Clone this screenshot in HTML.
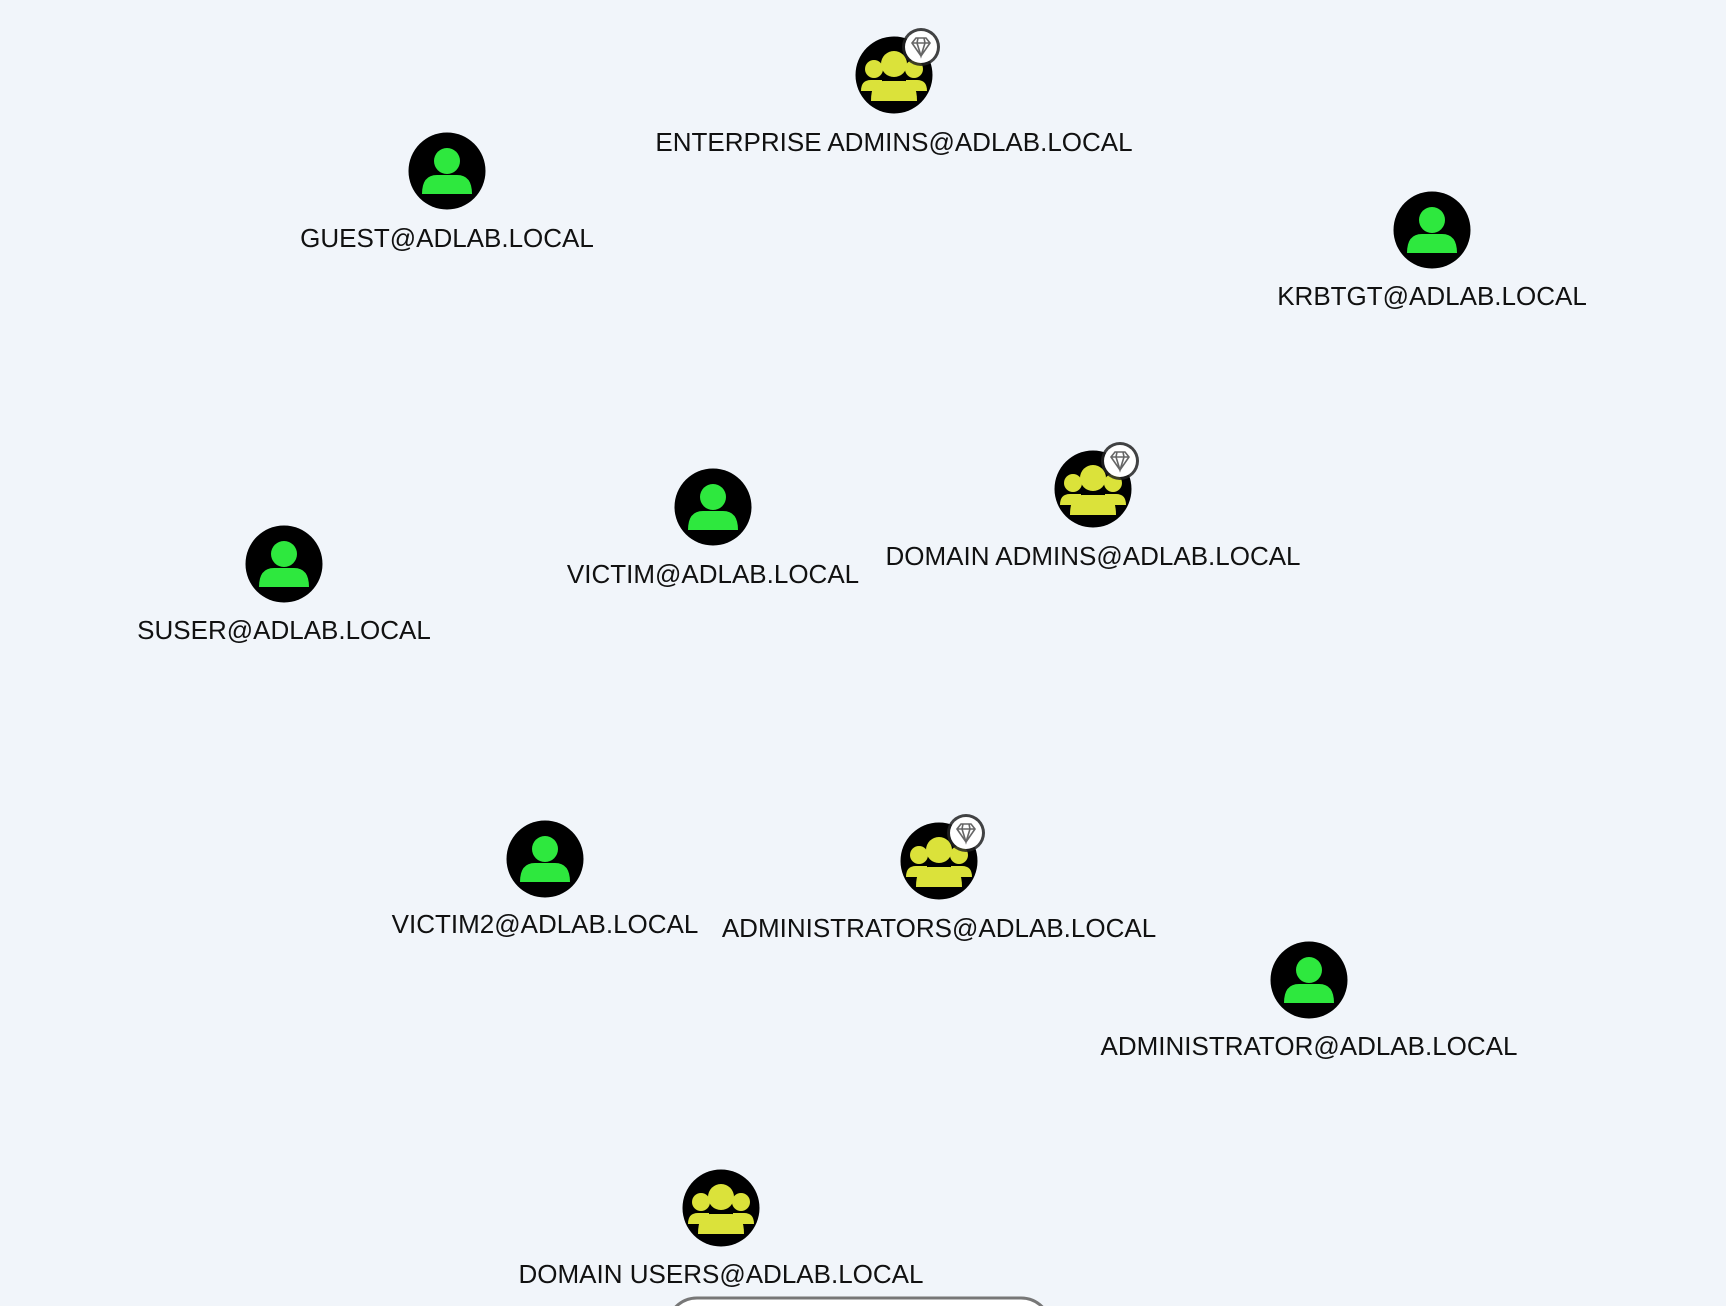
<!DOCTYPE html>
<html><head><meta charset="utf-8"><style>
html,body{margin:0;padding:0;background:#f1f5fa;}
svg{display:block}
text{font-family:"Liberation Sans",sans-serif;font-size:26px;fill:#111;text-anchor:middle;dominant-baseline:middle}
</style></head><body>
<svg width="1726" height="1306" viewBox="0 0 1726 1306" xmlns="http://www.w3.org/2000/svg">
<defs>
<g id="user">
<circle r="38.5" fill="#000"/>
<circle cx="0" cy="-10" r="13" fill="#2ee83e"/>
<path d="M-25 23 Q-25 4 -10 4 L10 4 Q25 4 25 23 Z" fill="#2ee83e"/>
</g>
<g id="group">
<circle r="38.5" fill="#000"/>
<circle cx="-20" cy="-6" r="9" fill="#dbe23a"/>
<circle cx="20" cy="-6" r="9" fill="#dbe23a"/>
<circle cx="0" cy="-11" r="13" fill="#dbe23a"/>
<path d="M-33 16 Q-33 5 -23 5 L-12 5 L-12 16 Z" fill="#dbe23a"/>
<path d="M33 16 Q33 5 23 5 L12 5 L12 16 Z" fill="#dbe23a"/>
<path d="M-23 26 Q-23 6 -11 6 L11 6 Q23 6 23 26 Z" fill="#dbe23a"/>
</g>
<g id="gem">
<circle r="19" fill="#222" opacity="0.85"/>
<circle r="16" fill="#fff"/>
<path d="M-9 -4 L-5 -9 L5 -9 L9 -4 L0 9 Z M-9 -4 L9 -4 M-3 -9 L-4 -4 L0 9 L4 -4 L3 -9" fill="none" stroke="#666" stroke-width="1.6"/>
</g>
</defs>
<use href="#group" x="894" y="75"/><use href="#gem" x="921" y="47"/>
<text x="894" y="144">ENTERPRISE ADMINS@ADLAB.LOCAL</text>
<use href="#user" x="447" y="171"/>
<text x="447" y="240">GUEST@ADLAB.LOCAL</text>
<use href="#user" x="1432" y="230"/>
<text x="1432" y="298">KRBTGT@ADLAB.LOCAL</text>
<use href="#user" x="713" y="507"/>
<text x="713" y="576">VICTIM@ADLAB.LOCAL</text>
<use href="#group" x="1093" y="489"/><use href="#gem" x="1120" y="461"/>
<text x="1093" y="558">DOMAIN ADMINS@ADLAB.LOCAL</text>
<use href="#user" x="284" y="564"/>
<text x="284" y="632">SUSER@ADLAB.LOCAL</text>
<use href="#user" x="545" y="859"/>
<text x="545" y="926">VICTIM2@ADLAB.LOCAL</text>
<use href="#group" x="939" y="861"/><use href="#gem" x="966" y="833"/>
<text x="939" y="930">ADMINISTRATORS@ADLAB.LOCAL</text>
<use href="#user" x="1309" y="980"/>
<text x="1309" y="1048">ADMINISTRATOR@ADLAB.LOCAL</text>
<use href="#group" x="721" y="1208"/>
<text x="721" y="1276">DOMAIN USERS@ADLAB.LOCAL</text>
<rect x="667" y="1298" width="384" height="60" rx="30" fill="#fff" stroke="#777" stroke-width="3"/>
</svg>
</body></html>
